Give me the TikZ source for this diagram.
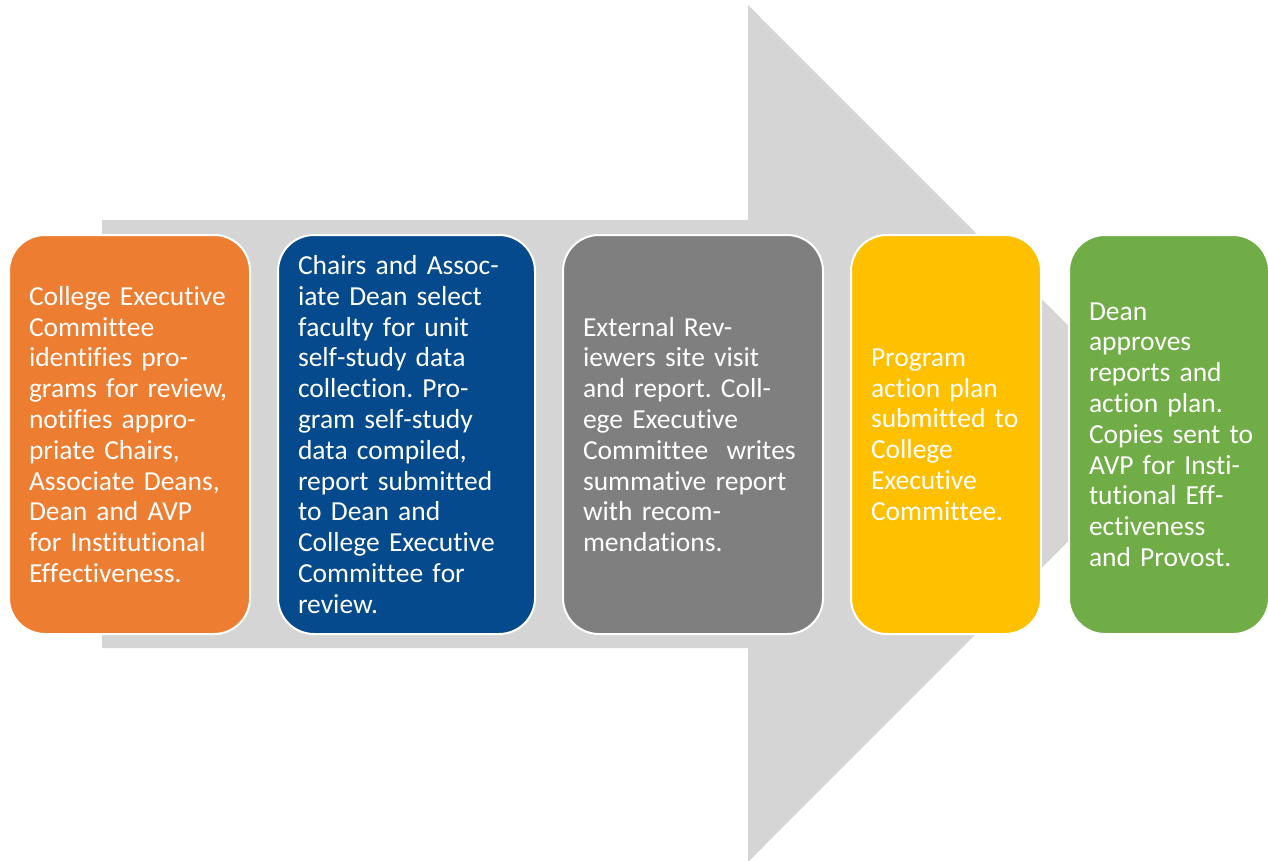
\documentclass[tikz,border=0pt]{standalone}
\usepackage{fontspec}
\setmainfont[Ligatures={NoCommon,NoRare,NoContextual}]{Carlito}
\frenchspacing
% keep t and f from joining with the following letter
\XeTeXinterchartokenstate=1
\newXeTeXintercharclass\sepclass
\XeTeXcharclass`t=\sepclass
\XeTeXcharclass`f=\sepclass
\XeTeXinterchartoks\sepclass 0={\kern0pt}
\XeTeXinterchartoks\sepclass\sepclass={\kern0pt}
\definecolor{arrowgray}{HTML}{D5D5D5}
\definecolor{steporange}{HTML}{ED7D31}
\definecolor{stepblue}{HTML}{054A8D}
\definecolor{stepgray}{HTML}{7F7F7F}
\definecolor{stepyellow}{HTML}{FFC000}
\definecolor{stepgreen}{HTML}{70AD47}
\begin{document}
\begin{tikzpicture}[x=1pt,y=-1pt,
  stepbox/.style={draw=white, line width=2pt, rounded corners=36pt,
    inner xsep=20pt, inner ysep=0pt, minimum height=399pt,
    align=left, text=white, anchor=west,
    font=\fontsize{27.5}{30.8}\selectfont}]
\useasboundingbox (0,0) rectangle (1268,861);

% large process arrow behind the steps
\fill[arrowgray] (102,220) -- (748,220) -- (748,5) -- (1176,433.5)
  -- (748,862) -- (748,648) -- (102,648) -- cycle;

% process steps
\node[stepbox, fill=steporange, text width=201pt] (s1) at (8,434.5)
  {College Executive\\Committee\\identifies pro-\\grams for review,\\notifies appro-\\priate Chairs,\\Associate Deans,\\Dean and AVP\\for Institutional\\Effectiveness.};
\node[stepbox, fill=stepblue, text width=217pt] (s2) at (277,434.5)
  {Chairs and Assoc-\\iate Dean select\\faculty for unit\\self-study data\\collection. Pro-\\gram self-study\\data compiled,\\report submitted\\to Dean and\\College Executive\\Committee for\\review.};
\node[stepbox, fill=stepgray, text width=220pt] (s3) at (562,434.5)
  {External Rev-\\iewers site visit\\and report. Coll-\\ege Executive\\Committee\ \ writes\\summative report\\with recom-\\mendations.};
\node[stepbox, fill=stepyellow, text width=150pt] (s4) at (850,434.5)
  {Program\\action plan\\submitted to\\College\\Executive\\Committee.};
\node[stepbox, fill=stepgreen, text width=160pt] (s5) at (1068,434.5)
  {Dean\\approves\\reports and\\action plan.\\\mbox{Copies sent to}\\AVP for Insti-\\tutional Eff-\\ectiveness\\and Provost.};
\end{tikzpicture}
\end{document}
